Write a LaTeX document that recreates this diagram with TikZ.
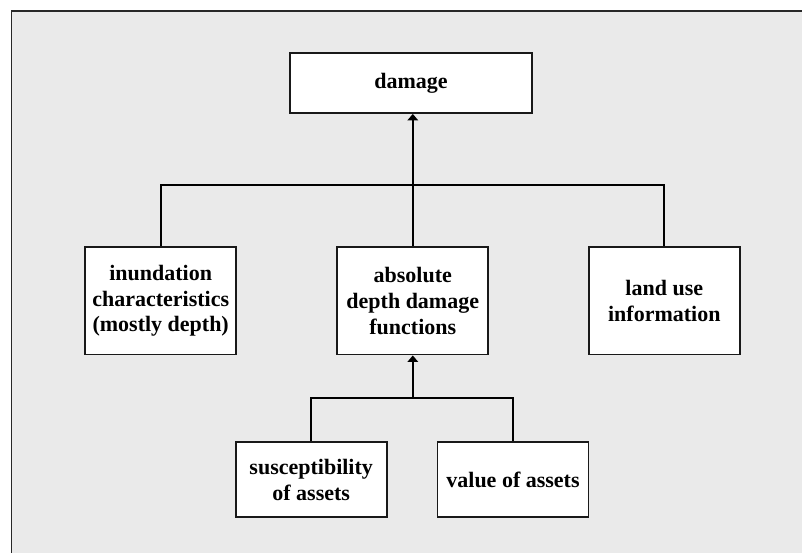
\documentclass[tikz,border=0pt]{standalone}
\usepackage{fontspec}
\setmainfont{Liberation Serif}
\usetikzlibrary{arrows.meta}
\begin{document}
\begin{tikzpicture}[x=1pt,y=-1pt,
  box/.style={draw={rgb,255:red,25;green,25;blue,25},fill=white,line width=1.8pt,inner sep=0pt,
    align=center,font=\fontsize{22}{25.7}\selectfont\bfseries},
  link/.style={draw=black,line width=2pt},
  arrowlink/.style={link,-{Triangle[width=10.5pt,length=6.5pt]}}]
  % canvas and panel
  \useasboundingbox (0,0) rectangle (802,553);
  \fill[white] (0,0) rectangle (802,553);
  \fill[fill={rgb,255:red,234;green,234;blue,234}] (11,11) rectangle (802,553);
  \draw[line width=1.6pt,draw={rgb,255:red,40;green,40;blue,40}] (11.5,553) -- (11.5,11) -- (802,11);

  % boxes
  \node[box,minimum width=242pt,minimum height=60pt] (damage) at (411,83) {damage};
  \node[box,minimum width=151pt,minimum height=107.5pt] (inund) at (160.7,300.8)
    {inundation\\characteristics\\(mostly depth)};
  \node[box,minimum width=151pt,minimum height=107.5pt] (absfn) at (412.8,300.8)
    {absolute\\depth damage\\functions};
  \node[box,minimum width=151pt,minimum height=107.5pt] (landuse) at (664.3,300.8)
    {land use\\information};
  \node[box,minimum width=151pt,minimum height=75pt] (suscept) at (311.2,479.8)
    {susceptibility\\of assets};
  \node[box,minimum width=151pt,minimum height=75pt] (value) at (513,479.8)
    {value of assets};

  % junctions
  \coordinate (topbus) at (412.8,185);
  \coordinate (lowbus) at (412.8,398);

  % connectors
  \draw[link] (inund.north) |- (topbus) -| (landuse.north);
  \draw[arrowlink] (absfn.north) -- (damage.south -| absfn.north);
  \draw[link] (suscept.north) |- (lowbus) -| (value.north);
  \draw[arrowlink] (lowbus) -- (absfn.south);
\end{tikzpicture}
\end{document}
